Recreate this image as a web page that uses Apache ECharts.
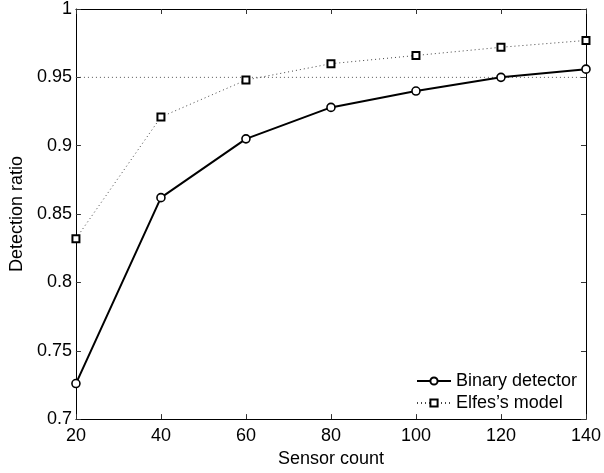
<!DOCTYPE html>
<html>
<head>
<meta charset="utf-8">
<script src="https://cdn.jsdelivr.net/npm/echarts@6/dist/echarts.min.js"></script>
<style>html,body{margin:0;padding:0;background:#fff}#c{width:604px;height:473px}</style>
</head>
<body>
<div id="c"></div>
<script>
var sensorCounts = [20, 40, 60, 80, 100, 120, 140];
var binaryDetector = [0.726, 0.862, 0.905, 0.928, 0.940, 0.950, 0.956];
var elfesModel = [0.832, 0.921, 0.948, 0.960, 0.966, 0.972, 0.977];
var thresholdValue = 0.95;
var xTicks = [20, 40, 60, 80, 100, 120, 140];
var yTicks = [0.7, 0.75, 0.8, 0.85, 0.9, 0.95, 1];

function pairs(xs, ys) { return xs.map(function (x, i) { return [x, ys[i]]; }); }

var FONT = "'Liberation Sans', Arial, Helvetica, sans-serif";
var FS = 18;
var chart = echarts.init(document.getElementById('c'), null, { renderer: 'canvas' });

var axisCommon = {
  axisLine: { show: true, lineStyle: { color: '#000', width: 1 } },
  axisTick: { show: true, inside: true, length: 5, lineStyle: { color: '#333', width: 1 } },
  splitLine: { show: false }
};

chart.setOption({
  animation: false,
  backgroundColor: '#fff',
  textStyle: { fontFamily: FONT },
  grid: { left: 67, right: 13, top: 8, bottom: 52, containLabel: false },
  legend: {
    orient: 'vertical',
    left: 411, top: 367,
    itemWidth: 34, itemHeight: 9, itemGap: 4,
    data: ['Binary detector', "Elfes\u2019s model"],
    textStyle: { fontFamily: FONT, fontSize: FS, color: '#000', padding: [0, 0, 0, 0] }
  },
  xAxis: [
    Object.assign({}, axisCommon, {
      type: 'value', min: xTicks[0], max: xTicks[xTicks.length - 1], interval: 20,
      name: 'Sensor count', nameLocation: 'middle', nameGap: 26,
      nameTextStyle: { fontFamily: FONT, fontSize: FS, color: '#000' },
      axisLabel: { color: '#000', fontSize: FS, fontFamily: FONT, margin: 8 }
    }),
    Object.assign({}, axisCommon, {
      type: 'value', position: 'top', min: xTicks[0], max: xTicks[xTicks.length - 1], interval: 20,
      axisLabel: { show: false }
    })
  ],
  yAxis: [
    Object.assign({}, axisCommon, {
      type: 'value', min: yTicks[0], max: yTicks[yTicks.length - 1], interval: 0.05,
      name: 'Detection ratio', nameLocation: 'middle', nameGap: 48,
      nameTextStyle: { fontFamily: FONT, fontSize: FS, color: '#000' },
      axisLabel: { color: '#000', fontSize: FS, fontFamily: FONT, margin: 4,
        formatter: function (v) { return String(Math.round(v * 100) / 100); } }
    }),
    Object.assign({}, axisCommon, {
      type: 'value', position: 'right', min: yTicks[0], max: yTicks[yTicks.length - 1], interval: 0.05,
      axisLabel: { show: false }
    })
  ],
  series: [
    {
      name: 'threshold', type: 'line', xAxisIndex: 0, yAxisIndex: 0,
      data: [[xTicks[0], thresholdValue], [xTicks[xTicks.length - 1], thresholdValue]],
      symbol: 'none', silent: true, z: 1,
      lineStyle: { color: '#555', width: 1, type: [1, 3] }
    },
    {
      name: "Elfes\u2019s model", type: 'line', xAxisIndex: 0, yAxisIndex: 0,
      data: pairs(sensorCounts, elfesModel),
      symbol: 'rect', symbolSize: 7, z: 3,
      lineStyle: { color: '#444', width: 1, type: [1, 3] },
      itemStyle: { color: '#fff', borderColor: '#000', borderWidth: 2 }
    },
    {
      name: 'Binary detector', type: 'line', xAxisIndex: 0, yAxisIndex: 0,
      data: pairs(sensorCounts, binaryDetector),
      symbol: 'circle', symbolSize: 8, z: 4,
      lineStyle: { color: '#000', width: 2 },
      itemStyle: { color: '#fff', borderColor: '#000', borderWidth: 1.6 }
    }
  ]
});
</script>
</body>
</html>
